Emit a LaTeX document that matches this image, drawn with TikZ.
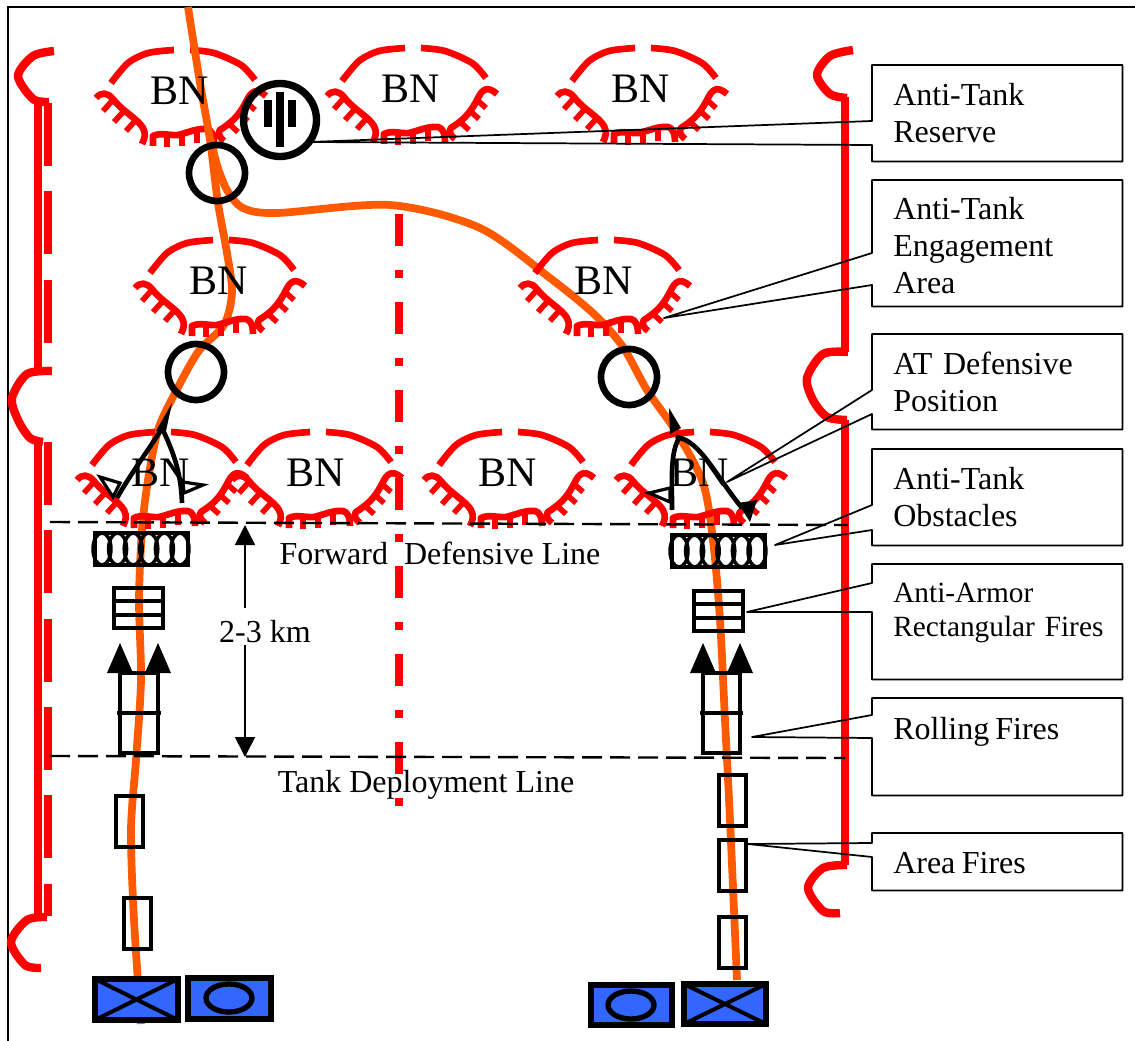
\documentclass[tikz,border=0pt]{standalone}
\usepackage{fontspec}
\setmainfont{Liberation Serif}
\usetikzlibrary{arrows.meta,calc}

\definecolor{redline}{RGB}{255,0,0}
\definecolor{routecol}{RGB}{255,90,0}
\definecolor{unitblue}{RGB}{51,102,255}

\tikzset{
  boundary/.style={redline, line width=6.3pt, line join=round},
  bnline/.style={redline, line width=5pt, line join=round},
  bntooth/.style={redline, line width=4.2pt},
  route/.style={routecol, line width=5.8pt},
  fireline/.style={black, line width=3.5pt},
  bnlabel/.style={font=\fontsize{31.5}{31.5}\selectfont, anchor=base, inner sep=0pt},
  linelabel/.style={font=\fontsize{24}{28}\selectfont, anchor=base, inner sep=0pt},
  calloutbox/.style={anchor=north west, align=left, minimum width=187.5pt, text width=156pt,
    inner xsep=15.75pt, inner ysep=0pt, font=\fontsize{24}{27.75}\selectfont},
  leader/.style={black, line width=1.3pt, line join=round},
  unitbox/.style={draw=black, fill=unitblue, line width=4.5pt},
  phaseline/.style={black, line width=1.8pt, dash pattern=on 15pt off 6pt}
}

% BN position: dug-in arc with hatching, origin at the label
\newcommand{\bnarea}[2]{%
  \begin{scope}[shift={(#1,#2)}]
    \draw[bnline] plot[smooth] coordinates {(-68,-7) (-51,-27) (-31,-37) (-5,-40)};
    \draw[bnline] plot[smooth] coordinates {(11,-40) (35,-37) (62,-25) (76,-10)};
    \draw[bnline] (-83,8) .. controls (-78,2) and (-72,2) .. (-66,9)
      .. controls (-56,22) and (-42,28) .. (-36,38) .. controls (-33,44) and (-34,48) .. (-37,54);
    \draw[bnline] (-26,56) -- (-26,46) .. controls (-18,42) and (-8,46) .. (-1,45)
      .. controls (8,43) and (18,38) .. (28,39) .. controls (32,40) and (35,44) .. (35,54);
    \draw[bnline] (45,51) .. controls (38,45) and (38,41) .. (44,38)
      .. controls (56,30) and (62,22) .. (68,10) .. controls (72,2) and (77,-3) .. (87,6);
    % teeth
    \foreach \tx/\ty in {-67/11, -56/22, -44/31} {
      \draw[bntooth] (\tx,\ty) -- ++(-9,10);
    }
    \foreach \tx/\ty in {-12/44, 3/43, 18/40} {
      \draw[bntooth] (\tx,\ty) -- ++(0,13);
    }
    \foreach \tx/\ty in {49/33, 59/22, 66/11} {
      \draw[bntooth] (\tx,\ty) -- ++(10,9);
    }
  \end{scope}
}

% callout outline: box with its left edge opened towards the tip
\newcommand{\callout}[4]{%
  \draw[leader] (#1.north west) -- ($(#1.north west)+(0,#3)$) -- (#2)
    -- ($(#1.north west)+(0,#4)$) -- (#1.south west) -- (#1.south east)
    -- (#1.north east) -- cycle;
}

\begin{document}
\begin{tikzpicture}[x=0.75pt, y=-0.75pt, >=Latex]
  \useasboundingbox (0,0) rectangle (1135,1041);

  % Frame
  \draw[black, line width=1.5pt] (8,1041) -- (8,7) -- (1135,7);

  % Left boundary
  \draw[boundary] (38,100) -- (38,372);
  \draw[boundary] (38,440) -- (38,917);
  \draw[boundary, dash pattern=on 47.25pt off 19pt] (48,103) -- (48,373);
  \draw[boundary, dash pattern=on 47.25pt off 19pt] (48,442) -- (48,916);
  \draw[boundary] plot[smooth] coordinates {(54,51) (33,56) (18,76) (33,99) (49,102)};
  \draw[boundary] plot[smooth] coordinates {(52,371) (27,374) (12,398) (18,420) (30,438) (43,442)};
  \draw[boundary] plot[smooth] coordinates {(47,917) (27,920) (11,942) (25,965) (41,968)};

  % Right boundary
  \draw[boundary] (845,97) -- (845,352);
  \draw[boundary] (845,420) -- (845,865);
  \draw[boundary] plot[smooth] coordinates {(853,50) (830,56) (817,75) (830,94) (847,98)};
  \draw[boundary] plot[smooth] coordinates {(848,352) (823,354) (807,378) (813,400) (827,417) (847,420)};
  \draw[boundary] plot[smooth] coordinates {(847,865) (823,868) (808,888) (823,911) (840,913)};

  % Centre line
  \draw[boundary, dash pattern=on 24pt off 18pt on 6pt off 18pt] (399,214) -- (399,806);

  \bnarea{179}{90}

  % Routes
  \draw[route] plot[smooth] coordinates {(188,7) (200,83) (210,140) (218,203) (227,253)
    (232,292) (224,325) (198,352) (173,397) (158,430) (148,480) (142,530) (139,600)
    (141,680) (136,760) (131,830) (134,920) (141,1024)};
  \draw[route] plot[smooth] coordinates {(211,140) (217,165) (227,190) (243,208) (277,213)
    (390,205) (480,228) (550,278) (595,315) (623,347) (647,390) (677,433) (703,483)
    (713,540) (720,620) (725,720) (730,820) (737,980)};

  \foreach \bx/\by in {410/88, 640/88, 218/280, 603/280, 160/472, 315/472, 507/472, 699/472} {
    \bnarea{\bx}{\by}
  }

  % Phase lines
  \draw[phaseline] (50,522) -- (848,525);
  \draw[phaseline] (50,756) -- (845,758);
  \node[linelabel] (forward) at (440,564) {Forward~~Defensive Line};
  \node[linelabel] (deploy) at (426,792) {Tank Deployment Line};

  % Depth arrows
  \node[linelabel] (depth) at (265,642) {2-3 km};
  \coordinate (deptop) at (245,608);
  \coordinate (depbot) at (245,645);
  \coordinate (fwdmark) at (245,525);
  \coordinate (tdlmark) at (245,757);
  \draw[-{Triangle[width=15pt,length=15pt]}, line width=1.2pt] (deptop) -- (fwdmark);
  \draw[-{Triangle[width=15pt,length=15pt]}, line width=1.2pt] (depbot) -- (tdlmark);

  % Engagement circles
  \draw[black, line width=5pt] (217,173) circle (28);
  \draw[black, line width=5pt] (196,372) circle (28);
  \draw[black, line width=5pt] (629,377) circle (28);

  % Reserve symbol
  \draw[black, line width=5.5pt] (280,120) circle (36.5);
  \fill[black] (276,92) rectangle (284,147);
  \fill[black] (264,100) rectangle (272,127);
  \fill[black] (288,100) rectangle (296,127);

  % AT defensive position, left
  \fill[black] (172,403) -- (156,431) -- (166,431) -- cycle;
  \draw[fireline] (161,430) .. controls (145,455) and (130,475) .. (117,498);
  \draw[fireline] (163,430) .. controls (172,450) and (181,470) .. (182,503);
  \draw[black, fill=white, line width=2.4pt] (100,477) -- (120,483) -- (113,497) -- cycle;
  \draw[black, fill=white, line width=2.4pt] (203,485) -- (183,482) -- (184,493) -- cycle;

  % AT defensive position, right
  \fill[black] (669,408) -- (670,434) -- (681,428) -- cycle;
  \draw[fireline] (680,437) .. controls (670,450) and (672,480) .. (672,510);
  \draw[fireline] (676,437) .. controls (700,440) and (715,475) .. (742,508);
  \draw[black, fill=white, line width=2.4pt] (649,493) -- (670,488) -- (670,502) -- cycle;
  \fill[black] (738,503) -- (757,500) -- (750,522) -- cycle;

  % Obstacles
  \foreach \ox/\oy in {93/531, 670/533} {
    \draw[black, line width=3.2pt] (\ox+2,\oy+2) rectangle (\ox+95,\oy+34);
    \foreach \i in {0,...,5} {
      \draw[black, line width=2.6pt] (\ox+9+\i*15.6,\oy+18) ellipse (9 and 16);
    }
  }

  % Rectangular fires
  \foreach \fx/\fy in {114/588, 694/591} {
    \draw[fireline] (\fx,\fy) rectangle (\fx+49,\fy+40);
    \draw[fireline] (\fx-2,\fy+13) -- (\fx+51,\fy+13);
    \draw[fireline] (\fx-2,\fy+27) -- (\fx+51,\fy+27);
  }

  % Rolling fires
  \foreach \rx/\rw in {120/38, 703/37} {
    \draw[fireline] (\rx,673) rectangle (\rx+\rw,753);
    \draw[fireline] (\rx-3,713) -- (\rx+\rw+3,713);
    \fill[black] (\rx,643) -- (\rx-13,673) -- (\rx+13,673) -- cycle;
    \fill[black] (\rx+\rw,643) -- (\rx+\rw-13,673) -- (\rx+\rw+13,673) -- cycle;
  }

  % Area fires
  \foreach \ax/\ay in {116/796, 124/898, 719/775, 719/840, 719/917} {
    \draw[fireline] (\ax,\ay) rectangle (\ax+27,\ay+51);
  }

  % Units
  \draw[unitbox] (95,979) rectangle (178,1020);
  \draw[black, line width=3pt] (95,979) -- (178,1020) (95,1020) -- (178,979);
  \draw[unitbox] (188,978) rectangle (271,1019);
  \draw[black, line width=4pt] (229,998) ellipse (23 and 14);
  \draw[unitbox] (591,985) rectangle (672,1025);
  \draw[black, line width=4pt] (631,1005) ellipse (23 and 14);
  \draw[unitbox] (684,984) rectangle (766,1024);
  \draw[black, line width=3pt] (684,984) -- (766,1024) (684,1024) -- (766,984);

  % BN labels on top
  \foreach \bx/\by [count=\i] in {179/90, 410/88, 640/88, 218/280, 603/280, 160/472, 315/472, 507/472, 699/472} {
    \node[bnlabel] (bn\i) at (\bx+1,\by+14.5) {BN};
  }

  % Callouts
  \coordinate (reservetip) at (310,142);
  \coordinate (areatip) at (664,318);
  \coordinate (positiontip) at (727,482);
  \coordinate (obstacletip) at (775,545);
  \coordinate (armortip) at (747,612);
  \coordinate (rollingtip) at (752,737);
  \coordinate (areafiretip) at (748,844);

  \node[calloutbox, minimum height=72pt] (reserve) at (872,65) {Anti-Tank\\Reserve};
  \node[calloutbox, minimum height=94.5pt] (engage) at (872,180) {\rule{0pt}{20pt}Anti-Tank\\Engagement\\Area};
  \node[calloutbox, minimum height=71.25pt] (position) at (872,334) {AT Defensive\\Position};
  \node[calloutbox, minimum height=72pt] (obstacle) at (872,449) {Anti-Tank\\Obstacles};
  \node[calloutbox, minimum height=86.25pt, font=\fontsize{22}{25.5}\selectfont] (armor) at (872,564)
    {\rule{0pt}{22pt}Anti-Armor\\\mbox{Rectangular Fires}\\\mbox{}};
  \node[calloutbox, minimum height=72.75pt] (rolling) at (872,698) {Rolling\hspace{0.19em}Fires\\\mbox{}};
  \node[calloutbox, minimum height=42.75pt] (areafire) at (872,833) {\rule{0pt}{18pt}Area\hspace{0.2em}Fires};

  \callout{reserve}{reservetip}{56}{80}
  \callout{engage}{areatip}{73}{105}
  \callout{position}{positiontip}{56}{80}
  \callout{obstacle}{obstacletip}{56}{81}
  \callout{armor}{armortip}{19}{48}
  \callout{rolling}{rollingtip}{17}{40}
  \callout{areafire}{areafiretip}{10}{24}
\end{tikzpicture}
\end{document}
